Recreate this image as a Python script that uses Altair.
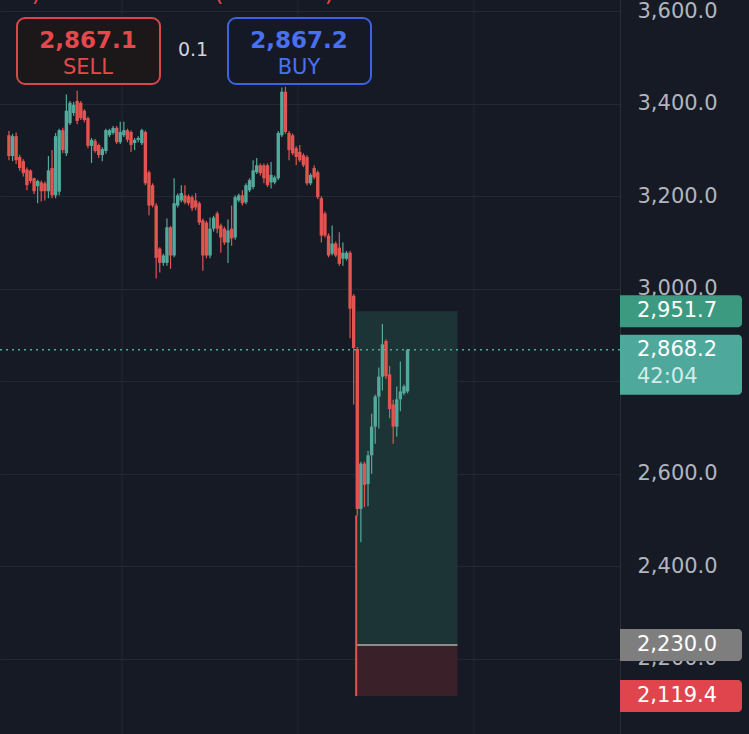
import altair as alt
import pandas as pd

# ---------------- data ----------------
opens = [3332, 3287, 3330, 3285, 3276, 3258, 3256, 3239, 3222, 3230, 3228, 3211, 3261, 3202,
         3210, 3343, 3293, 3358, 3380, 3406, 3402, 3385, 3369, 3309, 3320, 3311, 3289, 3298,
         3332, 3337, 3348, 3317, 3332, 3343, 3339, 3315, 3322, 3315, 3339, 3252, 3224, 3180,
         3087, 3056, 3056, 3133, 3072, 3180, 3191, 3202, 3200, 3198, 3191, 3185, 3148, 3143,
         3072,
         3130, 3163, 3137, 3130, 3100, 3130, 3111, 3191, 3202, 3187, 3213, 3220, 3252, 3267,
         3267, 3267, 3230, 3230, 3239, 3332, 3426, 3337, 3332, 3304, 3296, 3289, 3285, 3228,
         3261, 3252, 3196, 3163, 3115, 3076, 3098, 3089, 3065, 3065, 3078, 2985, 2870,
         2524, 2622, 2578, 2640, 2702, 2767, 2810, 2887, 2815, 2750, 2702, 2761, 2774, 2778]
highs = [3341, 3335, 3338, 3290, 3280, 3262, 3258, 3240, 3236, 3234, 3232, 3287, 3300, 3337,
         3346, 3348, 3420, 3406, 3404, 3428, 3406, 3388, 3372, 3326, 3324, 3314, 3306, 3346,
         3346, 3352, 3352, 3361, 3361, 3346, 3342, 3326, 3330, 3346, 3342, 3256, 3228, 3185,
         3090, 3076, 3152, 3136, 3239, 3206, 3224, 3224, 3204, 3202, 3207, 3189, 3152, 3147,
         3154,
         3158, 3167, 3141, 3134, 3150, 3180, 3202, 3206, 3213, 3228, 3239, 3278, 3283, 3271,
         3271, 3271, 3274, 3245, 3341, 3435, 3437, 3341, 3336, 3308, 3311, 3293, 3289, 3250,
         3267, 3256, 3200, 3167, 3120, 3137, 3102, 3122, 3100, 3082, 3082, 2989, 2874,
         2626, 2626, 2650, 2730, 2771, 2830, 2924, 2891, 2833, 2760, 2789, 2843, 2793, 2870]
lows = [3278, 3276, 3270, 3255, 3243, 3213, 3228, 3205, 3185, 3189, 3191, 3196, 3196, 3196,
        3202, 3293, 3287, 3354, 3374, 3356, 3365, 3360, 3304, 3272, 3294, 3283, 3276, 3292,
        3328, 3333, 3313, 3313, 3328, 3317, 3296, 3300, 3317, 3311, 3224, 3159, 3176, 3022,
        3035, 3050, 3050, 3043, 3068, 3176, 3187, 3183, 3180, 3168, 3170, 3138, 3039, 3066,
        3066,
        3124, 3120, 3078, 3095, 3056, 3093, 3106, 3187, 3180, 3183, 3209, 3215, 3248, 3245,
        3228, 3220, 3217, 3226, 3235, 3328, 3335, 3278, 3289, 3267, 3274, 3263, 3224, 3224,
        3237, 3194, 3100, 3111, 3068, 3072, 3068, 3050, 3050, 3061, 2893, 2750, 2510,
        2452, 2528, 2530, 2600, 2665, 2698, 2780, 2805, 2720, 2665, 2680, 2735, 2770, 2774]
closes = [3287, 3330, 3278, 3261, 3250, 3224, 3233, 3211, 3233, 3211, 3211, 3256, 3202, 3330,
          3343, 3300, 3385, 3402, 3398, 3363, 3369, 3365, 3309, 3322, 3298, 3289, 3302, 3343,
          3343, 3348, 3317, 3339, 3343, 3322, 3311, 3322, 3326, 3343, 3228, 3180, 3180, 3067,
          3056, 3072, 3133, 3072, 3185, 3202, 3207, 3187, 3185, 3174, 3176, 3143, 3072, 3072,
          3130,
          3154, 3130, 3111, 3100, 3126, 3109, 3198, 3202, 3185, 3224, 3235, 3256, 3267, 3250,
          3239, 3224, 3246, 3241, 3337, 3426, 3339, 3300, 3293, 3285, 3278, 3267, 3228, 3246,
          3241, 3198, 3115, 3115, 3072, 3098, 3072, 3054, 3078, 3078, 2957, 2872, 2524,
          2622, 2576, 2640, 2702, 2767, 2810, 2880, 2811, 2740, 2702, 2761, 2778, 2789, 2868.2]
bar_index = list(range(1, len(opens) + 1))

price_ticks = [2200, 2400, 2600, 2800, 3000, 3200, 3400, 3600]
time_grid_bars = [32.5, 81.5, 130.5]

target_price = 2951.7
entry_price = 2230.0
stop_price = 2119.4
last_price = 2868.2
countdown = "42:04"
pos_start_bar = 97.7
pos_end_bar = 125.9
stop_line_top = 2510

sell_price = "2,867.1"
buy_price = "2,867.2"
spread = "0.1"
header_glyphs = [")", "(", ")"]   # bottoms of a cut-off header line

# ---------------- colours ----------------
BG = "#161a25"
GRID = "#242834"
UP = "#53a99b"
DOWN = "#e2544f"

candles = pd.DataFrame({"i": bar_index, "open": opens, "high": highs,
                        "low": lows, "close": closes})

x_scale = alt.Scale(domain=[-0.096, 169.77], nice=False, zero=False)
y_scale = alt.Scale(domain=[2037.4, 3624.4], nice=False, zero=False)

y_axis = alt.Axis(orient="right", values=price_ticks, format=",.1f",
                  labelFontSize=21, labelColor="#b2b5be", labelFont="DejaVu Sans",
                  labelPadding=17, ticks=False, domain=True, domainColor="#2a2e39",
                  domainWidth=1, grid=True, gridColor=GRID, gridWidth=1, title=None,
                  labelOverlap=False, labelFlush=False, labelAlign="left",
                  labelBaseline="middle")

up_down = alt.condition("datum.close >= datum.open", alt.value(UP), alt.value(DOWN))

vgrid = alt.Chart(pd.DataFrame({"bar": time_grid_bars})).mark_rule(
    color=GRID, strokeWidth=1).encode(
    x=alt.X("bar:Q", scale=x_scale, axis=None),
    y=alt.value(0), y2=alt.value(734))

pos_df = pd.DataFrame({"start": [pos_start_bar], "end": [pos_end_bar],
                       "target": [target_price], "entry": [entry_price],
                       "stop": [stop_price], "stop_top": [stop_line_top]})

profit_box = alt.Chart(pos_df).mark_rect(color="#1c3435").encode(
    x=alt.X("start:Q", scale=x_scale, axis=None), x2="end:Q",
    y=alt.Y("target:Q", scale=y_scale, axis=y_axis), y2="entry:Q")
loss_box = alt.Chart(pos_df).mark_rect(color="#3a2029").encode(
    x=alt.X("start:Q", scale=x_scale, axis=None), x2="end:Q",
    y=alt.Y("entry:Q", scale=y_scale), y2="stop:Q")
entry_line = alt.Chart(pos_df).mark_rule(color="#8c8c8c", strokeWidth=2).encode(
    x=alt.X("start:Q", scale=x_scale, axis=None), x2="end:Q",
    y=alt.Y("entry:Q", scale=y_scale))
stop_vline = alt.Chart(pos_df).mark_rule(color=DOWN, strokeWidth=2).encode(
    x=alt.X("start:Q", scale=x_scale, axis=None),
    y=alt.Y("stop_top:Q", scale=y_scale), y2="stop:Q")

wicks = alt.Chart(candles).mark_rule(strokeWidth=1.2).encode(
    x=alt.X("i:Q", scale=x_scale, axis=None),
    y=alt.Y("low:Q", scale=y_scale), y2="high:Q", color=up_down)
bodies = alt.Chart(candles).mark_bar(size=3.4).encode(
    x=alt.X("i:Q", scale=x_scale, axis=None),
    y=alt.Y("open:Q", scale=y_scale), y2="close:Q", color=up_down)

last_df = pd.DataFrame({"p": [last_price], "label": [f"{last_price:,.1f}"],
                        "cd": [countdown]})
last_line = alt.Chart(last_df).mark_rule(color="#4ea89a", strokeWidth=1.5,
                                         strokeDash=[2, 4]).encode(
    y=alt.Y("p:Q", scale=y_scale), x=alt.value(0), x2=alt.value(620))

tags_df = pd.DataFrame({"p": [target_price, entry_price, stop_price],
                        "label": [f"{target_price:,.1f}", f"{entry_price:,.1f}",
                                  f"{stop_price:,.1f}"],
                        "fill": ["#3c9a80", "#7e7e7e", "#e0454e"]})
tag_boxes = alt.Chart(tags_df).mark_rect(yOffset=-16, y2Offset=16,
                                         cornerRadiusTopRight=4,
                                         cornerRadiusBottomRight=4).encode(
    y=alt.Y("p:Q", scale=y_scale), y2="p:Q",
    x=alt.value(620), x2=alt.value(742),
    color=alt.Color("fill:N", scale=None))
tag_text = alt.Chart(tags_df).mark_text(align="left", baseline="middle", fontSize=21,
                                        font="DejaVu Sans", color="#ffffff").encode(
    y=alt.Y("p:Q", scale=y_scale), x=alt.value(637), text="label:N")

last_box = alt.Chart(last_df).mark_rect(yOffset=-15, y2Offset=45, color="#4ea89b",
                                        cornerRadiusTopRight=4,
                                        cornerRadiusBottomRight=4).encode(
    y=alt.Y("p:Q", scale=y_scale), y2="p:Q", x=alt.value(620), x2=alt.value(742))
last_text = alt.Chart(last_df).mark_text(align="left", baseline="middle", fontSize=21,
                                         font="DejaVu Sans", color="#ffffff").encode(
    y=alt.Y("p:Q", scale=y_scale), x=alt.value(637), text="label:N")
cd_text = alt.Chart(last_df).mark_text(align="left", baseline="middle", fontSize=21,
                                       font="DejaVu Sans", color="#d3ece8",
                                       dy=27).encode(
    y=alt.Y("p:Q", scale=y_scale), x=alt.value(637), text="cd:N")

# ---------------- order panel at the top ----------------
one = pd.DataFrame({"sell": [sell_price], "buy": [buy_price], "spread": [spread],
                    "sell_l": ["SELL"], "buy_l": ["BUY"]})
sell_box = alt.Chart(one).mark_rect(fill="#1c1719", stroke="#d9474c", strokeWidth=2,
                                    cornerRadius=8).encode(
    x=alt.value(17), x2=alt.value(160), y=alt.value(18), y2=alt.value(84))
buy_box = alt.Chart(one).mark_rect(fill="#151925", stroke="#3e62e0", strokeWidth=2,
                                   cornerRadius=8).encode(
    x=alt.value(228), x2=alt.value(371), y=alt.value(18), y2=alt.value(84))
sell_t = alt.Chart(one).mark_text(fontSize=23, fontWeight="bold", font="DejaVu Sans",
                                  color="#e5484d", baseline="middle").encode(
    x=alt.value(88), y=alt.value(41), text="sell:N")
sell_l = alt.Chart(one).mark_text(fontSize=21, font="DejaVu Sans",
                                  color="#e5484d", baseline="middle").encode(
    x=alt.value(88), y=alt.value(68), text="sell_l:N")
buy_t = alt.Chart(one).mark_text(fontSize=23, fontWeight="bold", font="DejaVu Sans",
                                 color="#4a70f2", baseline="middle").encode(
    x=alt.value(299), y=alt.value(41), text="buy:N")
buy_l = alt.Chart(one).mark_text(fontSize=21, font="DejaVu Sans",
                                 color="#4a70f2", baseline="middle").encode(
    x=alt.value(299), y=alt.value(68), text="buy_l:N")
spread_t = alt.Chart(one).mark_text(fontSize=19, font="DejaVu Sans",
                                    color="#d1d4dc", baseline="middle").encode(
    x=alt.value(193), y=alt.value(50), text="spread:N")

hdr = pd.DataFrame({"g": header_glyphs})
hdr_layers = []
for k, xpx in enumerate([36, 219, 329]):
    hdr_layers.append(
        alt.Chart(hdr.iloc[[k]]).mark_text(fontSize=22, font="DejaVu Sans",
                                           color="#e5484d", baseline="alphabetic").encode(
            x=alt.value(xpx), y=alt.value(1), text="g:N"))

chart = alt.layer(
    vgrid, profit_box, loss_box, entry_line, stop_vline, wicks, bodies, last_line,
    tag_boxes, tag_text, last_box, last_text, cd_text,
    sell_box, buy_box, sell_t, sell_l, buy_t, buy_l, spread_t, *hdr_layers
).properties(
    width=620, height=734,
    autosize=alt.AutoSizeParams(type="none"),
    padding={"left": 0, "top": 0, "right": 129, "bottom": 0},
    background=BG,
).configure_view(stroke=None, fill=BG)

chart.save("out.html", embed_options={"renderer": "svg", "actions": False})
